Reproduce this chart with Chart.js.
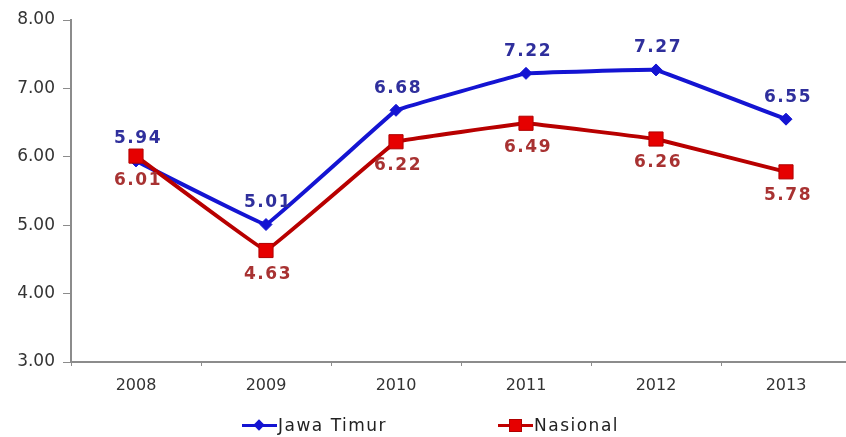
<!DOCTYPE html>
<html lang="id">
<head>
    <meta charset="UTF-8">
    <title>Jawa Timur vs Nasional</title>
    <style>
        body {
            margin: 0;
            padding: 0;
            background: #fff;
            overflow: hidden;
            font-family: "DejaVu Sans", sans-serif;
        }
        #wrap {
            position: relative;
            width: 846px;
            height: 437px;
            overflow: hidden;
        }
        #chart {
            position: absolute;
            left: 0;
            top: 0;
        }
        .legendItem {
            position: absolute;
            top: 414px;
            height: 22px;
            font-size: 17px;
            letter-spacing: 1.5px;
            color: #222;
            line-height: 22px;
            white-space: nowrap;
        }
        .legendItem .line {
            position: absolute;
            top: 10px;
            left: 0;
            width: 35px;
            height: 3px;
        }
        .legendItem .mark {
            position: absolute;
        }
        .legendItem .text {
            position: absolute;
            left: 36px;
            top: 0;
        }
    </style>
</head>
<body>
<div id="wrap">
    <canvas id="chart" width="862" height="437"></canvas>
    <div class="legendItem" style="left:242px;">
        <div class="line" style="background:#1414d2;"></div>
        <div class="mark" style="left:13px;top:7px;width:8px;height:8px;background:#1414d2;transform:rotate(45deg);"></div>
        <span class="text">Jawa Timur</span>
    </div>
    <div class="legendItem" style="left:498px;">
        <div class="line" style="background:#c00000;"></div>
        <div class="mark" style="left:11px;top:5px;width:11px;height:11px;background:#e60000;border:1px solid #b00000;"></div>
        <span class="text">Nasional</span>
    </div>
</div>

<script src="https://cdn.jsdelivr.net/npm/chart.js"></script>
<script>
    // data
    const years = ['2008', '2009', '2010', '2011', '2012', '2013'];
    const jawaTimur = [5.94, 5.01, 6.68, 7.22, 7.27, 6.55];
    const nasional = [6.01, 4.63, 6.22, 6.49, 6.26, 5.78];
    const yTicks = [3, 4, 5, 6, 7, 8];

    // value labels: blue above, red below
    const valueLabels = {
        id: 'valueLabels',
        afterDatasetsDraw(chart) {
            const ctx = chart.ctx;
            ctx.save();
            ctx.font = 'bold 17px "DejaVu Sans", sans-serif';
            if ('letterSpacing' in ctx) ctx.letterSpacing = '1.5px';
            ctx.textAlign = 'center';
            ctx.textBaseline = 'middle';
            chart.data.datasets.forEach((ds, i) => {
                const meta = chart.getDatasetMeta(i);
                meta.data.forEach((pt, j) => {
                    const dy = ds.labelPos === 'above' ? -22 : 24;
                    ctx.fillStyle = ds.labelColor;
                    ctx.fillText(ds.data[j].toFixed(2), pt.x + 2, pt.y + dy);
                });
            });
            ctx.restore();
        }
    };

    new Chart(document.getElementById('chart'), {
        type: 'line',
        data: {
            labels: years,
            datasets: [
                {
                    label: 'Jawa Timur',
                    data: jawaTimur,
                    borderColor: '#1414d2',
                    backgroundColor: '#1414d2',
                    borderWidth: 4,
                    pointStyle: 'rectRot',
                    pointRadius: 6,
                    pointBorderWidth: 1,
                    tension: 0.03,
                    order: 2,
                    labelPos: 'above',
                    labelColor: '#2f2f9c'
                },
                {
                    label: 'Nasional',
                    data: nasional,
                    borderColor: '#b80000',
                    backgroundColor: '#e60000',
                    pointBorderColor: '#b00000',
                    borderWidth: 4,
                    pointStyle: 'rect',
                    pointRadius: 10,
                    pointBorderWidth: 1,
                    tension: 0.03,
                    order: 1,
                    labelPos: 'below',
                    labelColor: '#a83232'
                }
            ]
        },
        options: {
            responsive: false,
            animation: false,
            devicePixelRatio: 1,
            layout: {
                padding: { top: 20, right: 1, bottom: 36, left: 0 }
            },
            plugins: {
                legend: { display: false },
                tooltip: { enabled: false }
            },
            scales: {
                x: {
                    offset: true,
                    grid: {
                        offset: true,
                        drawOnChartArea: false,
                        tickLength: 4,
                        color: '#8c8c8c'
                    },
                    border: { color: '#8c8c8c', width: 2 },
                    ticks: {
                        color: '#333',
                        padding: 10,
                        font: { family: '"DejaVu Sans", sans-serif', size: 16 }
                    },
                    afterFit(scale) { scale.height = 39; }
                },
                y: {
                    min: 3,
                    max: 8,
                    afterBuildTicks(scale) {
                        scale.ticks = yTicks.map(v => ({ value: v }));
                    },
                    grid: {
                        drawOnChartArea: false,
                        tickLength: 8,
                        color: '#8c8c8c'
                    },
                    border: { color: '#8c8c8c', width: 2 },
                    ticks: {
                        color: '#333',
                        padding: 8,
                        callback: v => v.toFixed(2),
                        font: { family: '"DejaVu Sans", sans-serif', size: 17 }
                    },
                    afterFit(scale) { scale.width = 71; }
                }
            }
        },
        plugins: [valueLabels]
    });
</script>
</body>
</html>
